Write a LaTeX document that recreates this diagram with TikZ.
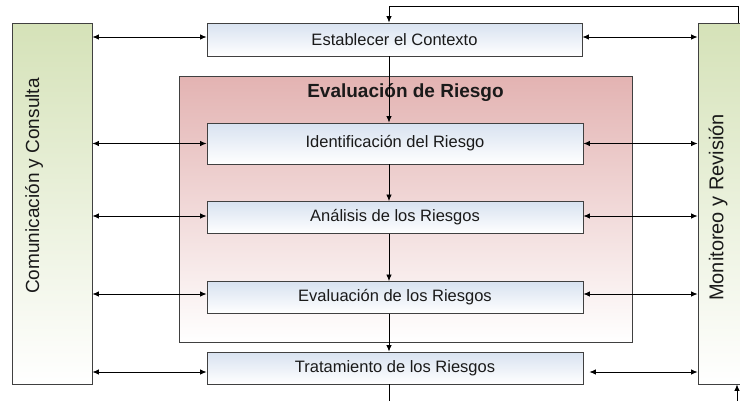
\documentclass[tikz,border=0pt]{standalone}
\usepackage{fontspec}
\setmainfont{Liberation Sans}
\usetikzlibrary{arrows.meta}
\definecolor{boxline}{HTML}{404040}
\definecolor{blueTop}{HTML}{D8E2F0}
\definecolor{greenTop}{HTML}{D5E2B8}
\definecolor{redTop}{HTML}{E3B3B2}
\definecolor{txt}{HTML}{1A1A1A}
\begin{document}
\begin{tikzpicture}[x=1pt,y=-1pt,
  stepbox/.style={draw=boxline, line width=0.9pt, top color=blueTop, bottom color=white,
    minimum width=376pt, minimum height=32pt, inner sep=0pt, text=txt,
    font=\fontsize{16.5}{19}\selectfont},
  sidebox/.style={draw=boxline, line width=0.9pt, top color=greenTop, bottom color=white,
    minimum width=80pt, minimum height=361pt, inner sep=0pt},
  sidetext/.style={rotate=90, text=txt, inner sep=0pt},
  evalbox/.style={draw=boxline, line width=0.9pt, top color=redTop, bottom color=white,
    minimum width=453pt, minimum height=266pt, inner sep=0pt},
  arr/.style={-{Latex[length=6.5pt,width=5.5pt]}, line width=0.8pt, black},
  dbl/.style={{Latex[length=6.5pt,width=5.5pt]}-{Latex[length=6.5pt,width=5.5pt]}, line width=0.8pt, black},
  plain/.style={line width=0.8pt, black}]
\useasboundingbox (0,0) rectangle (740,400);
\clip (0,0) rectangle (740,400);
\fill[white] (0,0) rectangle (740,400);

% side boxes
\node[sidebox] (com) at (52,203.5) {};
\node[sidetext, font=\fontsize{19}{22}\selectfont] (comtext) at (34,186) {Comunicación y Consulta};
\node[sidebox] (mon) at (738,203.5) {};
\node[sidetext, font=\fontsize{20}{23}\selectfont] (montext) at (718,207.5) {Monitoreo y Revisión};

% risk assessment frame
\node[evalbox] (frame) at (405.5,209) {};
\node[text=txt, font=\fontsize{19}{22}\selectfont\bfseries] (title) at (405.5,93) {Evaluación de Riesgo};

% process boxes
\node[stepbox, minimum width=375pt, minimum height=33pt] (est) at (394.5,39.5) {Establecer el Contexto};
\node[stepbox, minimum height=41pt] (ide) at (395,143.5) {\raisebox{3pt}{Identificación del Riesgo}};
\node[stepbox] (ana) at (395,217.5) {Análisis de los Riesgos};
\node[stepbox] (evl) at (395,297.5) {Evaluación de los Riesgos};
\node[stepbox] (tra) at (395,368) {Tratamiento de los Riesgos};

% vertical flow
\draw[arr] ([xshift=-5.5pt]est.south) -- ([xshift=-6pt]ide.north);
\draw[arr] ([xshift=-6pt]ide.south) -- ([xshift=-6pt]ana.north);
\draw[arr] ([xshift=-6pt]ana.south) -- ([xshift=-6pt]evl.north);
\draw[arr] ([xshift=-6pt]evl.south) -- ([xshift=-6pt]tra.north);

% horizontal link points
\coordinate (eL) at ([yshift=2.5pt]est.west);
\coordinate (eR) at ([yshift=2.5pt]est.east);
\coordinate (iL) at (ide.west);
\coordinate (iR) at (ide.east);
\coordinate (aL) at ([yshift=1.5pt]ana.west);
\coordinate (aR) at ([yshift=1.5pt]ana.east);
\coordinate (vL) at ([yshift=3.5pt]evl.west);
\coordinate (vR) at ([yshift=3.5pt]evl.east);
\coordinate (tL) at ([yshift=-4pt]tra.west);
\coordinate (tR) at ([xshift=6pt,yshift=-4pt]tra.east);

\draw[dbl] (eL -| com.east) -- (eL);
\draw[dbl] (iL -| com.east) -- (iL);
\draw[dbl] (aL -| com.east) -- (aL);
\draw[dbl] (vL -| com.east) -- (vL);
\draw[dbl] (tL -| com.east) -- (tL);

\draw[dbl] (eR) -- (eR -| mon.west);
\draw[dbl] (iR) -- (iR -| mon.west);
\draw[dbl] (aR) -- (aR -| mon.west);
\draw[dbl] (vR) -- (vR -| mon.west);
\draw[dbl] (tR) -- (tR -| mon.west);

% feedback loops
\draw[arr] (mon.north) -- ++(0,-16) -| ([xshift=-5.5pt]est.north);
\coordinate (trOut) at ([xshift=-6pt,yshift=-20pt]tra.south);
\draw[plain] ([xshift=-6pt]tra.south) -- (trOut);
\coordinate (monIn) at ([xshift=-1pt,yshift=-20pt]mon.south);
\draw[arr] (monIn) -- ([xshift=-1pt]mon.south);
\end{tikzpicture}
\end{document}
